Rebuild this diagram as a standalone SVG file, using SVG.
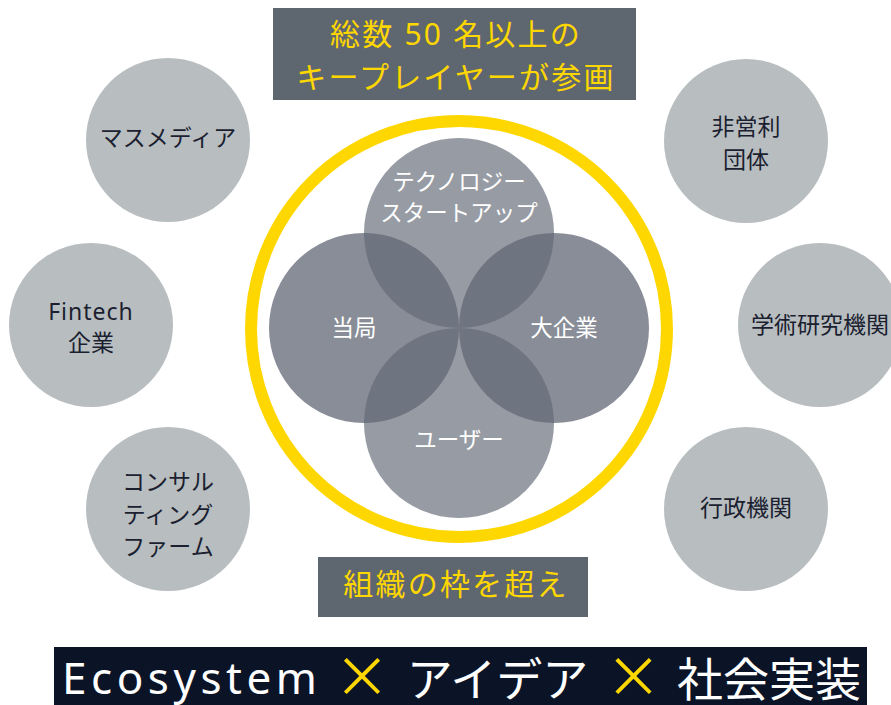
<svg xmlns="http://www.w3.org/2000/svg" width="891" height="705" viewBox="0 0 891 705">
<style>
.oc{fill:#B8BDC0}
.ot{font-family:"Noto Sans","Noto Sans CJK JP",sans-serif;font-size:23px;fill:#1B1F30;text-anchor:middle}
.it{font-family:"Noto Sans CJK JP",sans-serif;font-size:22.5px;fill:#FFFFFF;text-anchor:middle}
.yt{font-family:"Noto Sans","Noto Sans CJK JP",sans-serif;font-size:30px;fill:#FFD700;text-anchor:middle;letter-spacing:2.2px}
.band{fill:#5E6670}
.lr{fill:#888D97}
.tb{fill:#979CA4}
.lens{fill:#6E7480}
.bw{font-family:"Noto Sans CJK JP",sans-serif;fill:#FFFFFF}
.x{font-family:"Noto Sans CJK JP",sans-serif;fill:#FFD700;text-anchor:middle}
</style>
<rect width="891" height="705" fill="#FFFFFF"/>

<g id="title">
<rect class="band" x="273" y="8" width="363" height="92"/>
<text class="yt" x="456" y="45">総数 50 名以上の</text>
<text class="yt" x="456" y="88">キープレイヤーが参画</text>
</g>

<g id="ring">
<circle cx="459" cy="329" r="208" fill="none" stroke="#FFD700" stroke-width="12"/>
</g>

<g id="venn">
<g id="node-authority"><circle class="lr" cx="364" cy="328" r="95"/></g>
<g id="node-enterprise"><circle class="lr" cx="554" cy="328" r="95"/></g>
<g id="node-startup"><circle class="tb" cx="459" cy="233" r="95"/></g>
<g id="node-user"><circle class="tb" cx="459" cy="423" r="95"/></g>
<path class="lens" d="M364,233 A95,95 0 0 0 459,328 A95,95 0 0 0 364,233 Z"/>
<path class="lens" d="M459,328 A95,95 0 0 0 554,233 A95,95 0 0 0 459,328 Z"/>
<path class="lens" d="M459,328 A95,95 0 0 1 364,423 A95,95 0 0 1 459,328 Z"/>
<path class="lens" d="M459,328 A95,95 0 0 0 554,423 A95,95 0 0 0 459,328 Z"/>
<text class="it" x="459" y="190">テクノロジー</text>
<text class="it" x="459" y="221">スタートアップ</text>
<text class="it" x="354" y="336">当局</text>
<text class="it" x="564" y="336">大企業</text>
<text class="it" x="459" y="448">ユーザー</text>
</g>

<g id="node-massmedia">
<circle class="oc" cx="168" cy="140" r="82"/>
<text class="ot" x="168" y="146">マスメディア</text>
</g>
<g id="node-fintech">
<circle class="oc" cx="91" cy="325" r="82"/>
<text class="ot" x="91" y="320" style="letter-spacing:1px">Fintech</text>
<text class="ot" x="91" y="351">企業</text>
</g>
<g id="node-consulting">
<circle class="oc" cx="168" cy="509" r="82"/>
<text class="ot" x="168" y="490">コンサル</text>
<text class="ot" x="168" y="523">ティング</text>
<text class="ot" x="168" y="555">ファーム</text>
</g>
<g id="node-npo">
<circle class="oc" cx="746" cy="141" r="82"/>
<text class="ot" x="746" y="135">非営利</text>
<text class="ot" x="746" y="168">団体</text>
</g>
<g id="node-academia">
<circle class="oc" cx="820" cy="325" r="82"/>
<text class="ot" x="820" y="333">学術研究機関</text>
</g>
<g id="node-government">
<circle class="oc" cx="746" cy="509" r="82"/>
<text class="ot" x="746" y="516">行政機関</text>
</g>

<g id="subtitle">
<rect class="band" x="318" y="557" width="270" height="60"/>
<text class="yt" x="456" y="595">組織の枠を超え</text>
</g>

<g id="footer">
<rect x="54" y="647" width="813" height="58" fill="#0B1427"/>
<text class="bw" x="62" y="694" style="font-family:'Noto Sans',sans-serif;font-size:44px" textLength="255" lengthAdjust="spacing">Ecosystem</text>
<text class="x" x="362" y="697" style="font-size:56px">×</text>
<text class="bw" x="497.5" y="696" style="font-size:46px;text-anchor:middle">アイデア</text>
<text class="x" x="633.5" y="697" style="font-size:56px">×</text>
<text class="bw" x="769" y="696" style="font-size:46px;text-anchor:middle">社会実装</text>
</g>
</svg>
